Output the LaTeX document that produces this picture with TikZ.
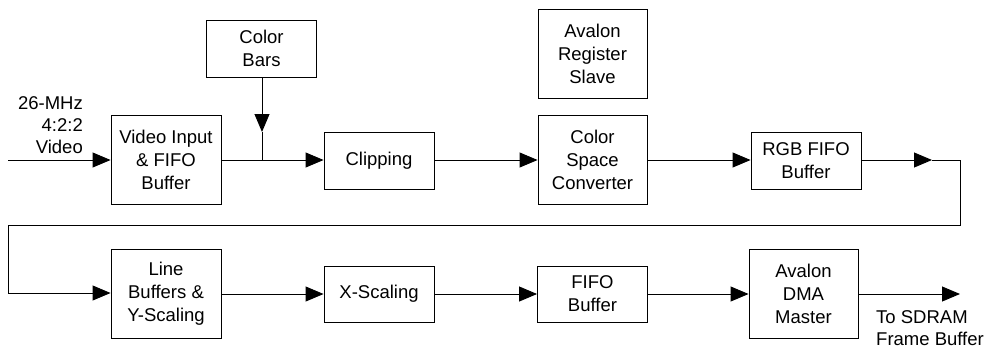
\documentclass[tikz,border=0pt]{standalone}
\usepackage{fontspec}
\setmainfont{Liberation Sans}
\usetikzlibrary{arrows.meta}
\begin{document}
\begin{tikzpicture}[x=1pt,y=-1pt,
  blk/.style={draw, line width=0.9pt, minimum width=110pt, inner sep=0pt, align=center, font=\fontsize{18.5}{23}\selectfont},
  tall/.style={blk, minimum height=89pt},
  short/.style={blk, minimum height=57pt},
  conn/.style={line width=0.9pt},
  arr/.style={conn, -{Triangle[length=18pt,width=15pt]}},
  lbl/.style={inner sep=0pt, font=\fontsize{18.5}{22}\selectfont}]
\useasboundingbox (0,0) rectangle (988,349);
% top row
\node[tall]  (vin)   at (166,160)   {Video Input\\\& FIFO\\Buffer};
\node[short] (cbars) at (261.5,48.5) {Color\\Bars};
\node[short] (clip)  at (379,160.5) {Clipping};
\node[tall, minimum width=109pt]  (ars)   at (592.5,53.5) {Avalon\\Register\\Slave};
\node[tall, minimum width=109pt]  (csc)   at (592.5,160)  {Color\\Space\\Converter};
\node[short] (rgb)   at (806,160.5) {RGB FIFO\\Buffer};
% bottom row
\node[tall]  (lby)   at (166,293.5) {Line\\Buffers \&\\Y-Scaling};
\node[short, minimum height=56pt] (xs)   at (379,294) {X-Scaling};
\node[short, minimum height=56pt] (fifo) at (592.5,294) {FIFO\\Buffer};
\node[tall, minimum width=109pt]  (dma)  at (803.5,293.5) {Avalon\\DMA\\Master};
% labels
\node[lbl, anchor=east, align=right] (inlbl) at (83,125) {26-MHz\\4:2:2\\Video};
\node[lbl, anchor=west, align=left] (outlbl) at (876,328) {To SDRAM\\Frame Buffer};
% coordinates
\coordinate (inst) at (8,160);
\coordinate (cbtip) at (262,132);
\coordinate (junc) at (262,160);
\coordinate (rgbtip) at (932,160);
\coordinate (r1) at (960,160);
\coordinate (r2) at (960,225);
\coordinate (r3) at (8,225);
\coordinate (r4) at (8,293);
\coordinate (outend) at (960,294);
% connectors
\draw[arr] (inst) -- (vin.west |- inst);
\draw[arr] (cbars.south -| cbtip) -- (cbtip);
\draw[conn] (cbtip) -- (junc);
\draw[arr] (vin.east |- junc) -- (clip.west |- junc);
\draw[arr] (clip.east |- junc) -- (csc.west |- junc);
\draw[arr] (csc.east |- junc) -- (rgb.west |- junc);
\draw[arr] (rgb.east |- junc) -- (rgbtip);
\draw[conn] (rgbtip) -- (r1) -- (r2) -- (r3) -- (r4);
\draw[arr] (r4) -- (lby.west |- r4);
\draw[arr] (lby.east |- outend) -- (xs.west |- outend);
\draw[arr] (xs.east |- outend) -- (fifo.west |- outend);
\draw[arr] (fifo.east |- outend) -- (dma.west |- outend);
\draw[arr] (dma.east |- outend) -- (outend);
\end{tikzpicture}
\end{document}
